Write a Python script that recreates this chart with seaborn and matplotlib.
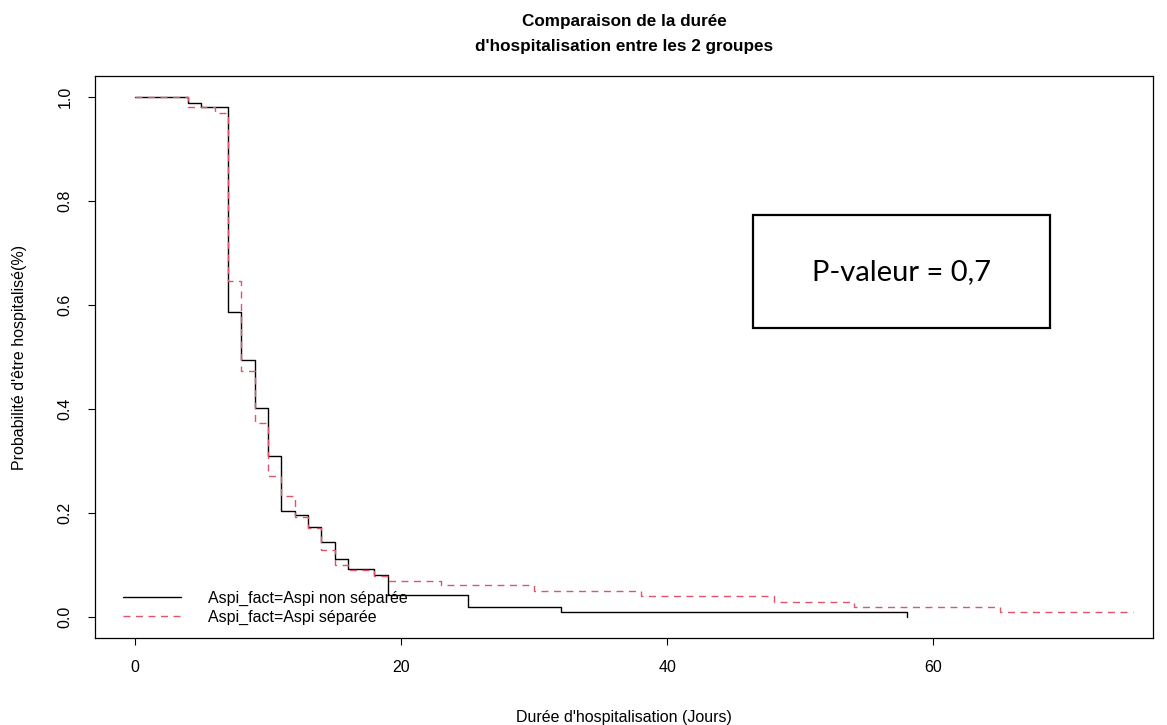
import pandas as pd
import matplotlib.pyplot as plt
import seaborn as sns
from matplotlib.patches import Rectangle

# Courbes de Kaplan-Meier (temps en jours, survie)
jours_non_sep = [0, 4, 5, 7, 8, 9, 10, 11, 12, 13, 14, 15, 16, 18, 19, 25, 32, 58]
surv_non_sep = [1.0, 0.989, 0.98, 0.587, 0.494, 0.402, 0.310, 0.205, 0.196,
                0.174, 0.144, 0.112, 0.092, 0.081, 0.042, 0.019, 0.0096, 0.0]

jours_sep = [0, 4, 6, 7, 8, 9, 10, 11, 12, 13, 14, 15, 16, 18, 19, 23, 30,
             38, 48, 54, 65, 75]
surv_sep = [1.0, 0.98, 0.969, 0.646, 0.474, 0.374, 0.272, 0.232, 0.192, 0.172,
            0.130, 0.101, 0.090, 0.080, 0.0705, 0.061, 0.050, 0.040, 0.030,
            0.020, 0.010, 0.010]

groupes = ["Aspi_fact=Aspi non séparée", "Aspi_fact=Aspi séparée"]
couleurs = ["black", "#DF536B"]
x_ticks = [0, 20, 40, 60]
y_ticks = [0.0, 0.2, 0.4, 0.6, 0.8, 1.0]
p_valeur = "P-valeur = 0,7"

df = pd.concat([
    pd.DataFrame({"Jours": jours_non_sep, "Survie": surv_non_sep, "Groupe": groupes[0]}),
    pd.DataFrame({"Jours": jours_sep, "Survie": surv_sep, "Groupe": groupes[1]}),
], ignore_index=True)

sns.set_style("ticks")
plt.rcParams['font.family'] = ['Liberation Sans', 'DejaVu Sans']
plt.rcParams.update({'text.color': 'black', 'axes.labelcolor': 'black',
                     'xtick.color': 'black', 'ytick.color': 'black',
                     'axes.edgecolor': 'black'})

fig = plt.figure(figsize=(11.67, 7.25), dpi=100)
ax = fig.add_axes([0.0814, 0.12, 0.9066, 0.775])

sns.lineplot(data=df, x="Jours", y="Survie", hue="Groupe", style="Groupe",
             palette=couleurs, dashes=["", (5, 4)], estimator=None, sort=False,
             drawstyle="steps-post", linewidth=1, ax=ax)

ax.set_xlim(-3.0, 76.5)
ax.set_ylim(-0.04, 1.04)
ax.set_xticks(x_ticks)
ax.set_yticks(y_ticks)
ax.set_yticklabels([f"{v:.1f}" for v in y_ticks], rotation=90, va="center")
ax.tick_params(axis="both", labelsize=11.5, length=5, width=0.8)
ax.tick_params(axis="x", pad=11)
ax.tick_params(axis="y", pad=11)
for s in ax.spines.values():
    s.set_linewidth(0.9)

ax.set_xlabel("Durée d'hospitalisation (Jours)", fontsize=11.5, labelpad=25)
ax.set_ylabel("Probabilité d'être hospitalisé(%)", fontsize=11.5, labelpad=22)
ax.set_title("Comparaison de la durée\nd'hospitalisation entre les 2 groupes",
             fontsize=12.3, fontweight="bold", pad=18, linespacing=1.85)

leg = ax.legend(loc="lower left", bbox_to_anchor=(0.0265, 0.023), frameon=False,
                fontsize=11.5, borderpad=0, borderaxespad=0, handlelength=3.6,
                handletextpad=1.7, labelspacing=0.25)

# encadré de la p-valeur
ax.add_patch(Rectangle((0.622, 0.5516), 0.2806, 0.2011, transform=ax.transAxes,
                       fill=False, edgecolor="black", linewidth=1.6))
ax.text(0.7623, 0.652, p_valeur, transform=ax.transAxes, ha="center", va="center",
        fontsize=21, family=["Lato", "DejaVu Sans"])

plt.savefig("out.png", dpi=100)
plt.close()
